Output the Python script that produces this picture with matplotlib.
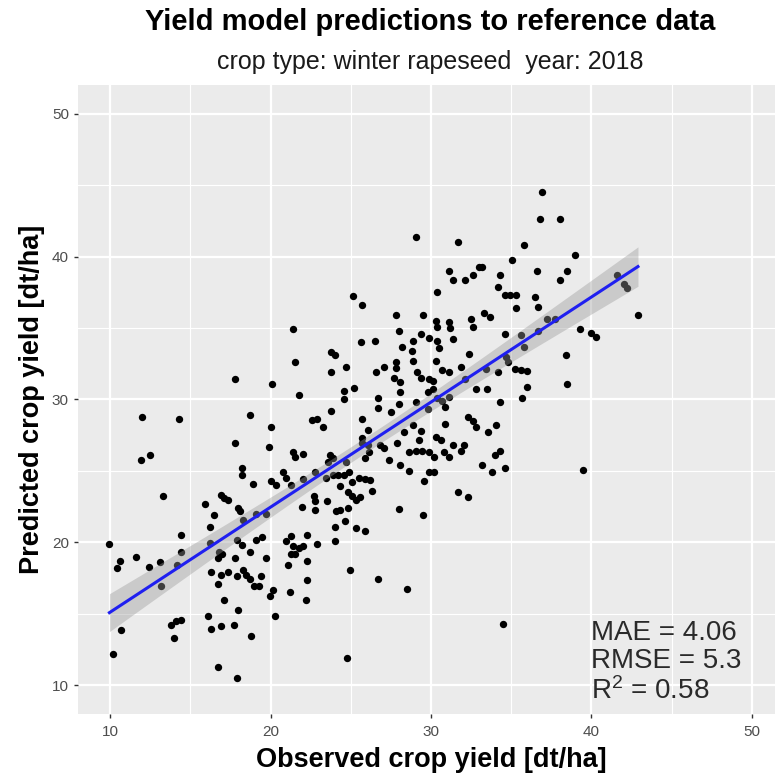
import numpy as np
import matplotlib.pyplot as plt

# observed / predicted yield [dt/ha]
observed = [29.08, 25.16, 25.7, 27.8, 29.5, 21.4, 28.0, 29.4, 29.9, 25.65, 26.5, 28.9, 28.2, 23.8, 24.0,
            28.8, 28.9, 21.55, 24.7, 27.1, 27.8, 27.8, 26.6, 23.8, 29.15, 27.7, 28.1, 29.4, 29.9, 17.8,
            20.1, 21.8, 24.6, 25.2, 24.6, 26.7, 28.1, 28.0, 29.05, 29.8, 26.7, 27.5, 29.8, 12.0, 14.3,
            18.75, 23.8, 22.6, 22.9, 23.3, 20.0, 25.7, 26.1, 25.7, 28.3, 28.9, 29.4, 29.25,
            36.9, 36.8, 38.05, 31.7, 35.8, 35.05, 39.0, 31.1, 31.4, 32.1, 32.6, 33.0, 33.2, 34.3, 34.2,
            36.6, 38.5, 38.05, 30.4, 34.6, 34.9, 35.3, 36.5, 35.3, 36.7, 41.6, 42.05, 42.2, 42.9, 33.3,
            33.7, 30.3, 30.4, 31.1, 31.2, 32.5, 32.6, 31.4, 34.6, 35.6, 37.2, 37.7, 36.7, 39.3, 40.0,
            40.3, 30.4, 30.5, 35.8, 32.4, 38.4, 30.3, 30.7, 31.1, 31.9, 34.7, 34.8, 35.25, 35.6, 36.0,
            33.4, 34.2, 32.1, 30.1, 30.1, 32.8, 33.5, 36.0, 38.5, 35.7, 34.3, 31.1, 30.9, 30.7, 30.4,
            32.3, 32.6, 32.8, 34.05, 33.55, 30.9, 30.3, 30.6,
            31.4, 32.05, 30.8, 31.1, 30.2, 31.85, 30.2, 33.2, 33.8, 34.6, 34.0, 34.3, 31.7, 32.3, 39.5,
            34.5,
            17.8, 19.9, 11.95, 12.5, 21.4, 21.5, 22.05, 23.7, 23.9, 23.6, 24.7, 25.7, 26.1, 26.8, 27.1,
            25.9, 26.15, 27.4, 27.9, 28.1, 28.6, 28.6, 29.05, 29.45, 29.9, 29.55, 29.9,
            18.2, 18.2, 18.9, 20.05, 20.35, 20.75, 20.95, 21.3, 22.0, 22.8, 23.45, 23.9, 24.2, 24.6, 24.9,
            24.3, 25.1, 25.5, 25.9, 26.2, 26.35, 24.8, 25.1, 25.3, 25.6, 22.7, 22.8, 23.55, 21.95, 22.8,
            24.3, 24.1, 24.8, 28.0, 29.5,
            13.3, 15.9, 16.9, 17.1, 17.35, 18.0, 18.1, 16.5, 18.3, 19.1, 19.7, 16.2, 14.45, 16.2, 14.45,
            9.96, 10.6, 10.45, 11.6, 12.4, 13.1, 14.2, 13.2, 16.8, 16.7, 17.0, 17.8, 17.9, 18.2, 19.1,
            19.5, 18.7, 19.7, 16.3, 16.9, 17.35, 17.9, 18.3, 18.5, 18.7, 19.4, 18.95, 19.3, 16.7, 20.15,
            19.98, 21.2, 22.2, 22.25, 22.3, 21.1, 21.3, 21.5, 20.95, 21.3, 21.4, 21.8, 22.0, 22.3, 22.9,
            24.0, 24.0, 24.65, 25.3, 25.9, 24.95, 26.7, 28.5, 20.3, 18.8, 16.1, 16.3, 16.9, 17.7, 18.0,
            17.1, 13.8, 14.1, 14.45, 14.0, 10.7, 10.2, 16.7, 17.9, 24.75]
predicted = [41.35, 37.27, 36.6, 35.9, 35.9, 34.9, 34.8, 34.6, 34.3, 34.0, 34.1, 34.1, 33.7, 33.3, 33.1,
             33.4, 32.7, 32.6, 32.3, 32.3, 32.6, 32.2, 31.9, 31.9, 31.9, 31.5, 31.2, 31.5, 31.4, 31.4,
             31.1, 30.3, 30.6, 30.8, 30.0, 30.1, 30.5, 29.7, 29.8, 30.5, 29.4, 29.1, 29.3, 28.8, 28.6,
             28.9, 29.2, 28.55, 28.6, 28.1, 28.1, 28.6, 27.9, 27.3, 27.7, 28.25, 27.8, 27.2,
             44.5, 42.6, 42.6, 41.05, 40.8, 39.75, 40.1, 39.0, 38.35, 38.35, 38.7, 39.3, 39.3, 38.7, 37.9,
             39.0, 39.0, 38.35, 37.5, 37.3, 37.3, 37.3, 37.15, 36.4, 36.5, 38.7, 38.1, 37.8, 35.9, 36.05,
             35.8, 35.5, 35.1, 35.4, 35.0, 35.6, 35.1, 34.2, 34.6, 34.5, 35.6, 35.6, 34.8, 34.9, 34.65,
             34.4, 34.1, 33.6, 33.7, 33.2, 33.1, 32.7, 32.05, 31.9, 32.3, 33.0, 32.6, 32.1, 32.05, 32.0,
             32.1, 31.9, 31.4, 31.3, 30.7, 30.7, 30.7, 30.9, 31.1, 30.1, 29.8, 30.2, 29.5, 29.9, 30.1,
             28.8, 28.5, 28.1, 28.2, 27.7, 28.3, 27.4, 27.2,
             26.85, 26.85, 26.3, 26.0, 26.0, 26.4, 24.9, 25.45, 24.9, 25.2, 26.15, 26.4, 23.5, 23.2, 25.1,
             14.3,
             26.95, 26.7, 25.8, 26.15, 26.3, 26.0, 26.2, 26.15, 25.9, 25.6, 25.6, 26.97, 26.85, 26.85, 26.6,
             25.9, 26.3, 25.8, 26.97, 25.45, 25.0, 26.3, 26.4, 26.4, 26.3, 24.3, 24.9,
             25.2, 24.75, 24.1, 24.3, 24.05, 24.9, 24.5, 24.05, 24.45, 24.9, 24.5, 24.75, 24.7, 24.75, 24.9,
             23.95, 24.2, 24.5, 24.45, 24.4, 23.6, 23.5, 23.25, 23.0, 23.2, 23.25, 22.9, 22.9, 22.5, 22.3,
             22.3, 22.2, 22.4, 22.35, 21.95,
             23.25, 22.7, 23.35, 23.1, 22.95, 22.4, 22.2, 21.95, 21.6, 22.0, 22.0, 21.1, 20.55, 19.95, 19.3,
             19.9, 18.7, 18.2, 19.0, 18.3, 18.6, 18.4, 16.95, 19.3, 18.9, 19.2, 18.9, 20.2, 19.8, 20.2,
             20.4, 19.3, 18.9, 17.9, 17.75, 17.9, 17.65, 18.1, 17.75, 17.45, 17.65, 16.95, 16.95, 17.1, 16.7,
             16.25, 16.5, 15.95, 17.4, 18.7, 18.4, 19.2, 19.2, 20.1, 20.45, 19.75, 19.6, 19.75, 20.55, 19.9,
             21.1, 20.1, 21.5, 21.0, 20.8, 18.05, 17.45, 16.75, 14.85, 13.45, 14.85, 13.95, 14.15, 14.25, 15.3,
             15.95, 14.25, 14.5, 14.6, 13.35, 13.9, 12.2, 11.3, 10.55, 11.95]

ticks = [10, 20, 30, 40, 50]
minor_ticks = [15, 25, 35, 45]
stats_text = ['MAE = 4.06', 'RMSE = 5.3', r'$\mathregular{R^2}$ = 0.58']

plt.rcParams['font.family'] = ['Liberation Sans', 'DejaVu Sans']

x = np.array(observed)
y = np.array(predicted)

# linear fit + 95% band (like geom_smooth(method='lm'))
n = len(x)
b1, b0 = np.polyfit(x, y, 1)
xs = np.linspace(x.min(), x.max(), 100)
ys = b0 + b1 * xs
res = y - (b0 + b1 * x)
s = np.sqrt(np.sum(res ** 2) / (n - 2))
se = s * np.sqrt(1.0 / n + (xs - x.mean()) ** 2 / np.sum((x - x.mean()) ** 2))
band = 1.97 * se

fig = plt.figure(figsize=(7.75, 7.76), dpi=100)
ax = fig.add_axes([0.1006, 0.0799, 0.9110, 0.8106])
ax.set_facecolor('#EBEBEB')
for sp in ax.spines.values():
    sp.set_visible(False)

ax.set_xlim(8, 52)
ax.set_ylim(8, 52)
ax.set_xticks(ticks)
ax.set_yticks(ticks)
ax.set_xticks(minor_ticks, minor=True)
ax.set_yticks(minor_ticks, minor=True)
ax.grid(which='major', color='white', linewidth=1.6)
ax.grid(which='minor', color='white', linewidth=0.8)
ax.set_axisbelow(True)
ax.tick_params(which='major', length=3, width=1, color='#333333', labelcolor='#4D4D4D', labelsize=11)
ax.tick_params(axis='x', which='major', pad=5)
ax.tick_params(which='minor', length=0)

ax.scatter(x, y, s=28, color='black', zorder=3, linewidths=0)
ax.fill_between(xs, ys - band, ys + band, color='#999999', alpha=0.4, linewidth=0, zorder=4)
ax.plot(xs, ys, color='#1F1FF0', linewidth=2.2, zorder=5)

ax.text(40, 13.7, stats_text[0], fontsize=20, color='#2A2A2A', va='center', ha='left')
ax.text(40, 11.7, stats_text[1], fontsize=20, color='#2A2A2A', va='center', ha='left')
ax.text(40, 9.6, stats_text[2], fontsize=20, color='#2A2A2A', va='center', ha='left')

ax.set_xlabel('Observed crop yield [dt/ha]', fontsize=19.5, fontweight='bold', labelpad=6)
ax.set_ylabel('Predicted crop yield [dt/ha]', fontsize=19.5, fontweight='bold', labelpad=5)

fig.text(0.555, 0.972, 'Yield model predictions to reference data', fontsize=21, fontweight='bold',
         ha='center', va='center')
fig.text(0.555, 0.920, 'crop type: winter rapeseed  year: 2018', fontsize=18, ha='center', va='center',
         color='#1A1A1A')

fig.savefig('out.png', dpi=100)
